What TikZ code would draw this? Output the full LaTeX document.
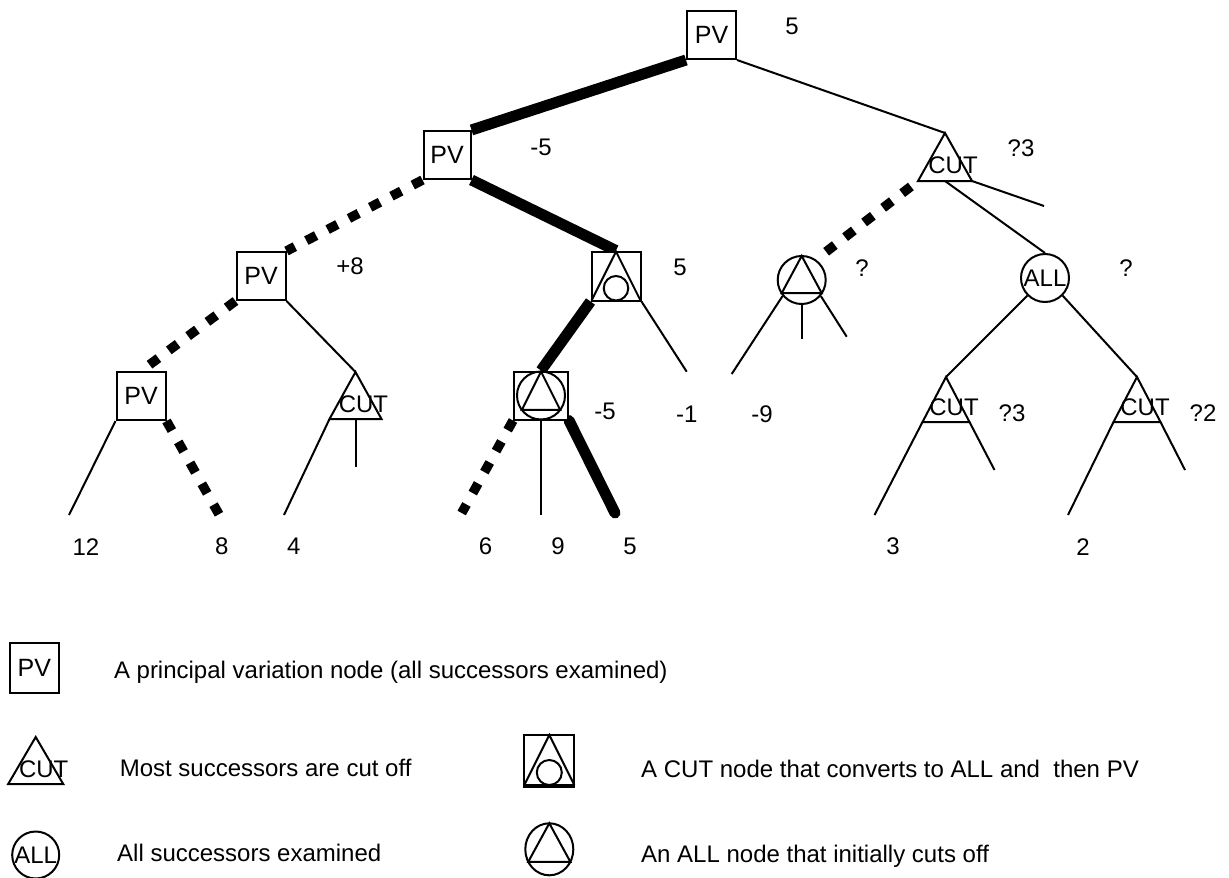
\documentclass[tikz,border=0pt]{standalone}
\usepackage{fontspec}
\setmainfont{Liberation Sans}
\usetikzlibrary{shapes.geometric,calc}
\pgfdeclarelayer{edges}
\pgfsetlayers{edges,main}
\newcommand\lblfont{\fontsize{24}{28}\selectfont}
\newcommand\boxfont{\fontsize{25}{29}\selectfont}

\tikzset{
  nodeline/.style={line width=2pt},
  thinedge/.style={line width=2pt},
  thickedge/.style={line width=11pt},
  dashedge/.style={line width=9.5pt, dash pattern=on 11pt off 13pt},
  pvbox/.style={draw, nodeline, fill=white, minimum width=49pt, minimum height=48pt,
                inner sep=0pt, font=\boxfont},
  allnode/.style={draw, nodeline, fill=white, circle, minimum size=48pt, inner sep=0pt,
                  font=\lblfont},
  lbl/.style={inner sep=0pt, font=\lblfont},
  legtext/.style={anchor=base west, inner sep=0pt, font=\lblfont},
  % CUT node: triangle given by base width and height, apex at the pic origin
  pics/cutnode/.style 2 args={code={
    \draw[nodeline, fill=white] (0,0) coordinate (-apex) -- (-#1/2,#2) coordinate (-bl)
          -- (#1/2,#2) coordinate (-br) -- cycle;
    \coordinate (-bm) at (0,#2);
    \node[lbl] at (8,0.68*#2) {CUT};
  }},
  % ALL node that cuts off: ellipse with an inscribed triangle
  pics/alltri/.style n args={3}{code={
    \node[draw, ellipse, nodeline, minimum width=2*#1, minimum height=2*#2,
          inner sep=0pt] (-c) at (0,0) {};
    \draw[nodeline] (0,-#2) -- ({-#1*sqrt(1-#3*#3)},{#3*#2})
          -- ({#1*sqrt(1-#3*#3)},{#3*#2}) -- cycle;
  }},
  % CUT node converting to ALL and then PV: square, triangle and small circle
  pics/convnode/.style={code={
    \node[draw, nodeline, fill=white, minimum size=#1, inner sep=0pt] (-s) at (0,0) {};
    \draw[nodeline] (-#1/2,#1/2) -- (0,-#1/2) -- (#1/2,#1/2);
    \draw[nodeline] (0,#1/4) circle[radius=#1/4];
  }},
}

\begin{document}
\begin{tikzpicture}[x=1pt,y=-1pt]
\useasboundingbox (0,0) rectangle (1229,878);

% ---- tree nodes ----
\node[pvbox] (root) at (711.5,35) {PV};
\node[pvbox, minimum width=47pt] (pv1) at (447,155) {PV};
\node[pvbox] (pv2) at (261,276) {PV};
\node[pvbox] (pv3) at (141,396) {PV};
\pic (cv) at (616,276) {convnode=49};
\node[pvbox, minimum width=54pt] (ac) at (541,395.5) {};
\pic (act) at (541,395.5) {alltri={24}{24}{0.6}};
\pic (cuta) at (355.5,372) {cutnode={52}{47}};
\pic (cut1) at (945,133) {cutnode={54}{48}};
\pic (ct1) at (801.7,280) {alltri={24}{24}{0.55}};
\node[allnode] (all) at (1045,278) {ALL};
\pic (cutb) at (946,377) {cutnode={47}{45}};
\pic (cutc) at (1137,377) {cutnode={47}{45}};

% ---- free ends of the branches ----
\coordinate (e12) at (69,515);
\coordinate (e8) at (225,525);
\coordinate (e4) at (284,515);
\coordinate (ecut) at (355.5,467);
\coordinate (e6) at (461.7,513);
\coordinate (e9) at (541,515);
\coordinate (e5) at (615,513);
\coordinate (em1) at (686.7,371.7);
\coordinate (em9) at (731.7,374);
\coordinate (ectm) at (801.7,339);
\coordinate (ectr) at (846.7,336.7);
\coordinate (ecut1) at (1044,206);
\coordinate (e3) at (874.5,515);
\coordinate (ebr) at (994.5,470);
\coordinate (e2) at (1068,515);
\coordinate (ecr) at (1185,470);

% ---- branches ----
\begin{pgfonlayer}{edges}
  % principal variation
  \draw[thickedge] (root.south west) -- (pv1.north east);
  \draw[thickedge] (pv1.south east) -- (cv-s.north);
  \draw[thickedge] (cv-s.south west) -- (ac.north);
  \draw[thickedge, line cap=round] (ac.south east) -- (e5);
  % refuted moves
  \draw[dashedge] (pv1.south west) -- (pv2.north east);
  \draw[dashedge] (pv2.south west) -- (pv3.north);
  \draw[dashedge] (pv3.south east) -- (e8);
  \draw[dashedge] (ac.south west) -- (e6);
  \draw[dashedge, dash phase=15pt] (cut1-bl) -- (ct1-c.55);
  % other branches
  \draw[thinedge] (pv3.south west) -- (e12);
  \draw[thinedge] (pv2.south east) -- (cuta-apex);
  \draw[thinedge] (cuta-bl) -- (e4);
  \draw[thinedge] (cuta-bm) -- (ecut);
  \draw[thinedge] (ac.south) -- (e9);
  \draw[thinedge] (cv-s.south east) -- (em1);
  \draw[thinedge] (root.south east) -- (cut1-apex);
  \draw[thinedge] (cut1-br) -- (ecut1);
  \draw[thinedge] (cut1-bm) -- (all.north);
  \draw[thinedge] (ct1-c.220) -- (em9);
  \draw[thinedge] (ct1-c.south) -- (ectm);
  \draw[thinedge] (ct1-c.-40) -- (ectr);
  \draw[thinedge] (all.225) -- (cutb-apex);
  \draw[thinedge] (all.-45) -- (cutc-apex);
  \draw[thinedge] (cutb-bl) -- (e3);
  \draw[thinedge] (cutb-br) -- (ebr);
  \draw[thinedge] (cutc-bl) -- (e2);
  \draw[thinedge] (cutc-br) -- (ecr);
\end{pgfonlayer}

% ---- backed-up values ----
\node[lbl] (vroot) at (792,26) {5};
\node[lbl] (vpv1) at (541,147.5) {-5};
\node[lbl] (vcut1) at (1021,148.5) {?3};
\node[lbl] (vpv2) at (350,266) {+8};
\node[lbl] (vcv) at (680,267) {5};
\node[lbl] (vct1) at (862,268) {?};
\node[lbl] (vall) at (1126,268.5) {?};
\node[lbl] (vac) at (605,411.7) {-5};
\node[lbl] (vm1) at (686.7,414) {-1};
\node[lbl] (vm9) at (762,414) {-9};
\node[lbl] (vcutb) at (1012,413) {?3};
\node[lbl] (vcutc) at (1203,413) {?2};

% ---- leaf values ----
\node[lbl] (l12) at (86,546.7) {12};
\node[lbl] (l8) at (221.7,546.7) {8};
\node[lbl] (l4) at (293.7,546.7) {4};
\node[lbl] (l6) at (485.5,546.7) {6};
\node[lbl] (l9) at (558,546.7) {9};
\node[lbl] (l5) at (630,546.7) {5};
\node[lbl] (l3) at (893,546.7) {3};
\node[lbl] (l2) at (1083,546.7) {2};

% ---- legend ----
\node[pvbox, minimum width=49pt, minimum height=50pt] (lpv) at (34.4,668) {PV};
\node[legtext] (tpv) at (113.8,678.3) {A principal variation node (all successors examined)};
\pic (lcut) at (35.7,737) {cutnode={55}{47}};
\node[legtext] (tcut) at (119.6,776.7) {Most successors are cut off};
\node[allnode, minimum size=47pt] (lall) at (35.7,855) {ALL};
\node[legtext] (tall) at (117,861.7) {All successors examined};
\pic (lcv) at (549.3,760) {convnode=50};
\draw[line width=3.5pt] (lcv-s.south west) -- (lcv-s.south east);
\node[legtext] (tcv) at (641,777.3) {A CUT node that converts to ALL and\ \ then PV};
\pic (lac) at (549.3,849.3) {alltri={24}{26}{0.48}};
\node[legtext] (tac) at (641,862.7) {An ALL node that initially cuts off};
\end{tikzpicture}
\end{document}
